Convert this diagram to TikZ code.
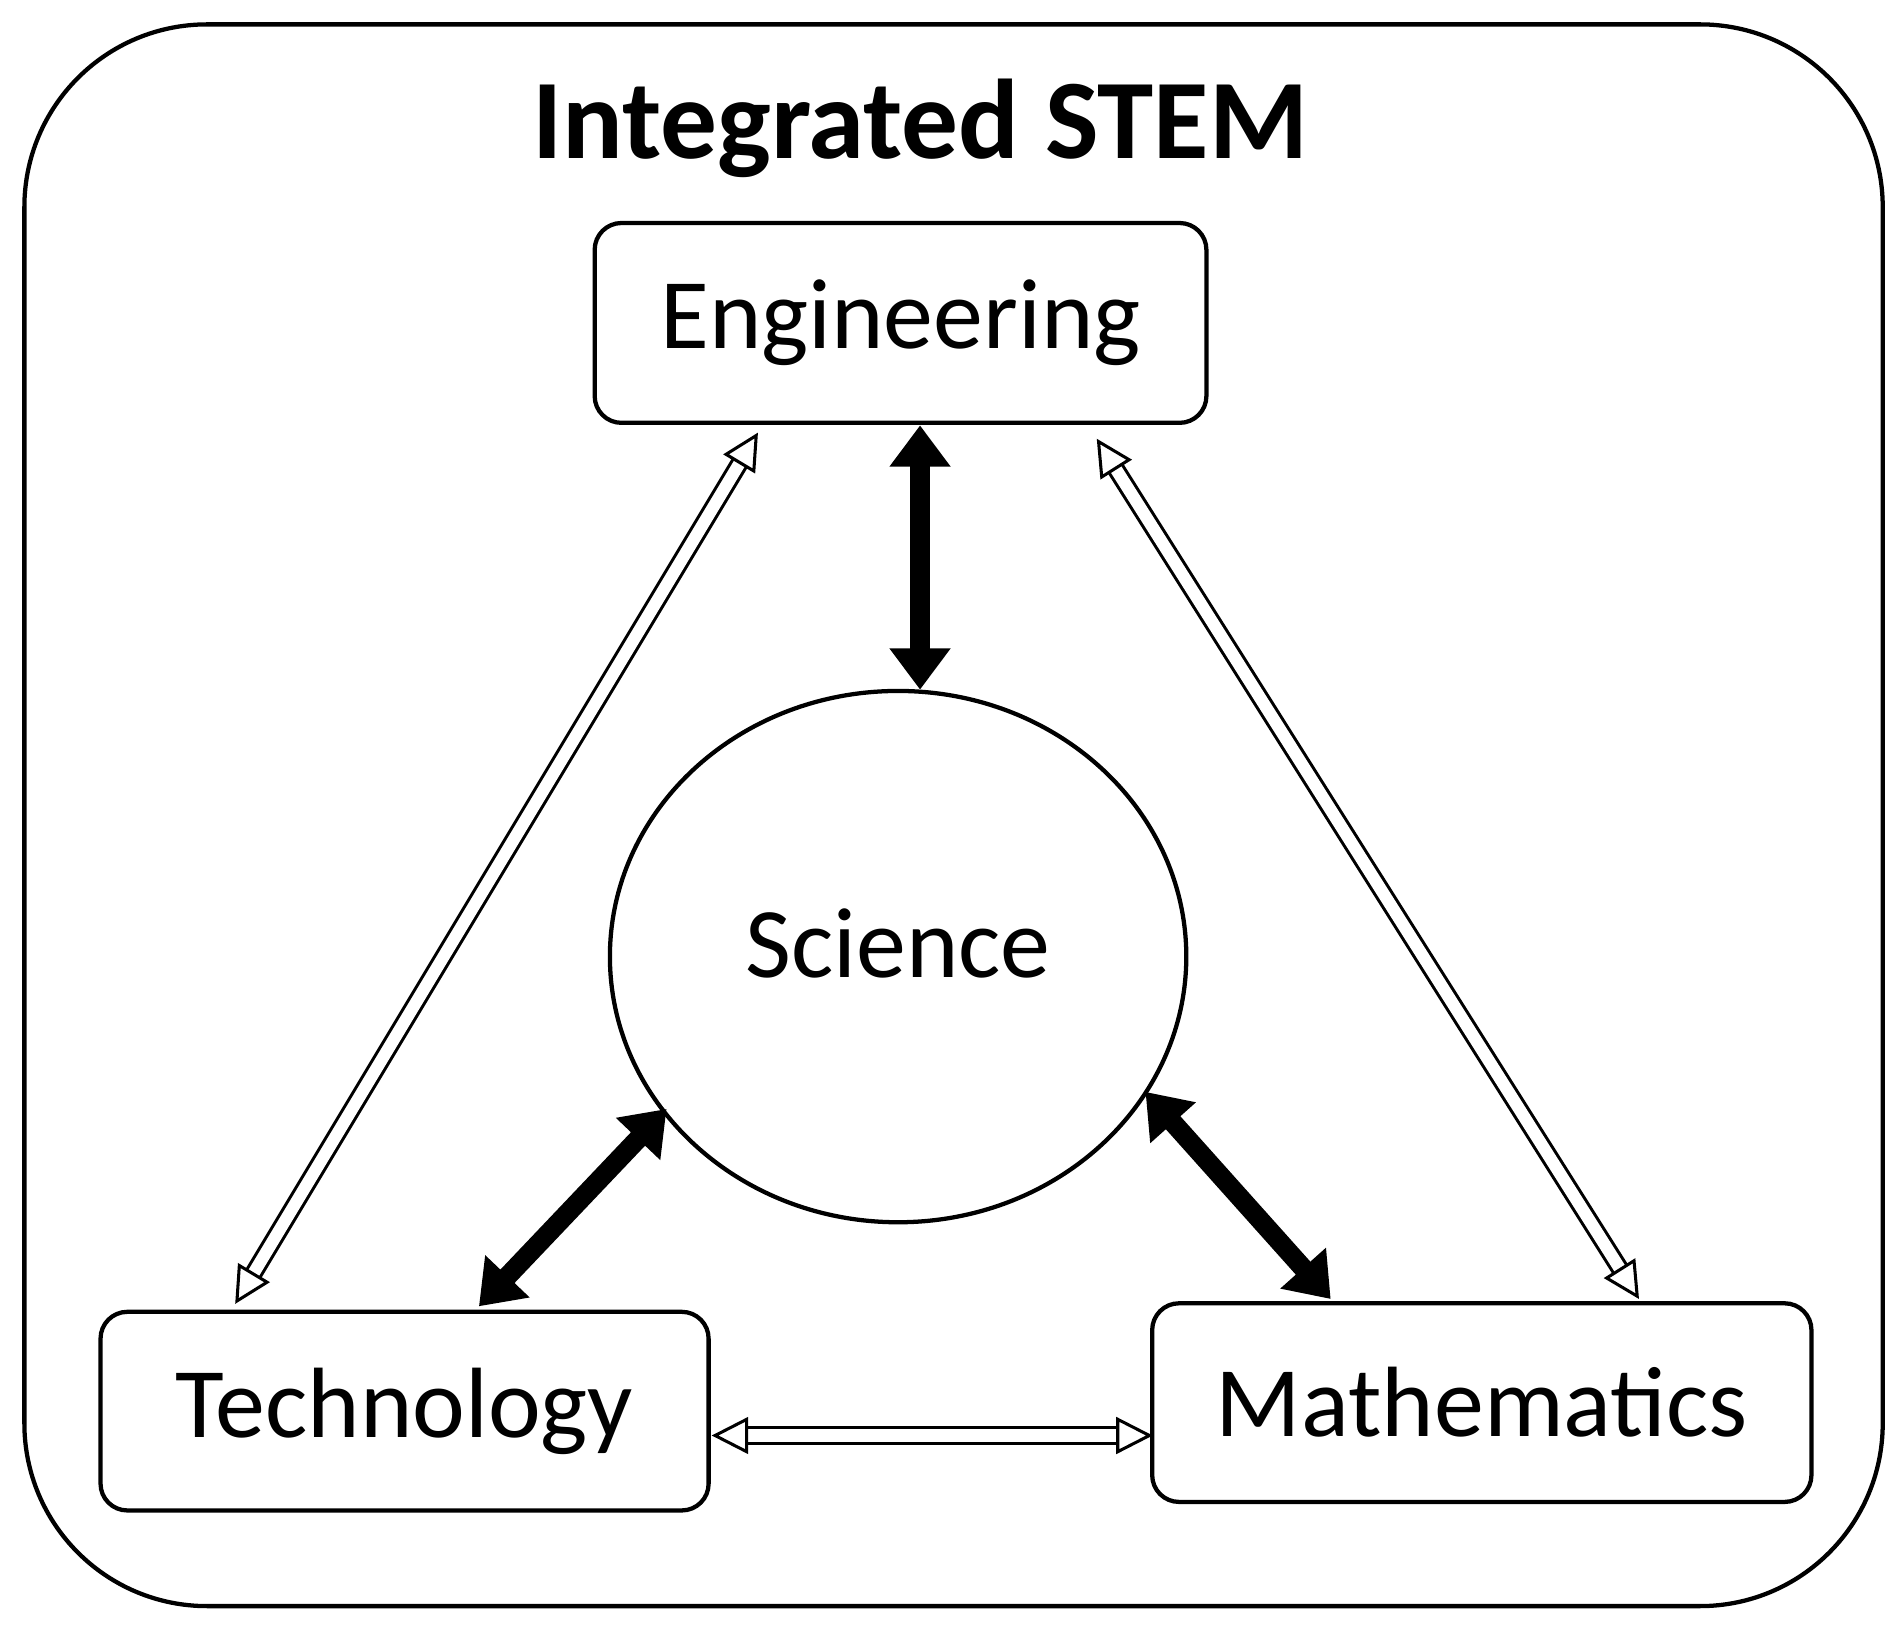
\documentclass[tikz,border=0pt]{standalone}
\usepackage{fontspec}
\setmainfont{Carlito}
\usetikzlibrary{arrows.meta,shapes.geometric}
\begin{document}
\begin{tikzpicture}[x=1pt,y=-1pt,
  box/.style={draw,line width=3.5pt,rounded corners=22pt,font=\fontsize{82}{96}\selectfont,inner sep=0pt},
  thick arr/.style={line width=16pt,{Triangle[length=34pt,width=48pt]}-{Triangle[length=34pt,width=48pt]}},
  hollow/.style={draw,line width=2.5pt,double=white,double distance=10pt,
    {Triangle[open,length=30pt,width=30pt,fill=white,line width=2.5pt]}-{Triangle[open,length=30pt,width=30pt,fill=white,line width=2.5pt]}}]
\useasboundingbox (0,0) rectangle (1560,1335);
\draw[line width=3.5pt,rounded corners=150pt] (20,20) rectangle (1545,1318);
\node[font=\fontsize{93}{110}\selectfont\bfseries] (title) at (755,105) {Integrated STEM};
\node[box,minimum width=502pt,minimum height=164pt] (eng) at (739,265) {Engineering};
\node[box,minimum width=499pt,minimum height=163pt] (tech) at (332,1158) {Technology};
\node[box,minimum width=541pt,minimum height=163pt] (math) at (1216,1151) {Mathematics};
\node[draw,line width=3.5pt,ellipse,minimum width=473pt,minimum height=436pt,font=\fontsize{82}{96}\selectfont] (sci) at (737,785) {\raisebox{22pt}{Science}};
% endpoints
\coordinate (e1) at (755,349); \coordinate (s1) at (755,566);
\coordinate (t2) at (393,1072); \coordinate (s2) at (547,910);
\coordinate (m3) at (1092,1066); \coordinate (s3) at (940,896);
\coordinate (t4) at (193,1070); \coordinate (e4) at (622,355);
\coordinate (m5) at (1345,1066); \coordinate (e5) at (900,360);
\coordinate (t6) at (584,1178); \coordinate (m6) at (946,1178);
\draw[thick arr] (e1) -- (s1);
\draw[thick arr] (t2) -- (s2);
\draw[thick arr] (m3) -- (s3);
\draw[hollow] (t4) -- (e4);
\draw[hollow] (m5) -- (e5);
\draw[hollow] (t6) -- (m6);
\end{tikzpicture}
\end{document}
